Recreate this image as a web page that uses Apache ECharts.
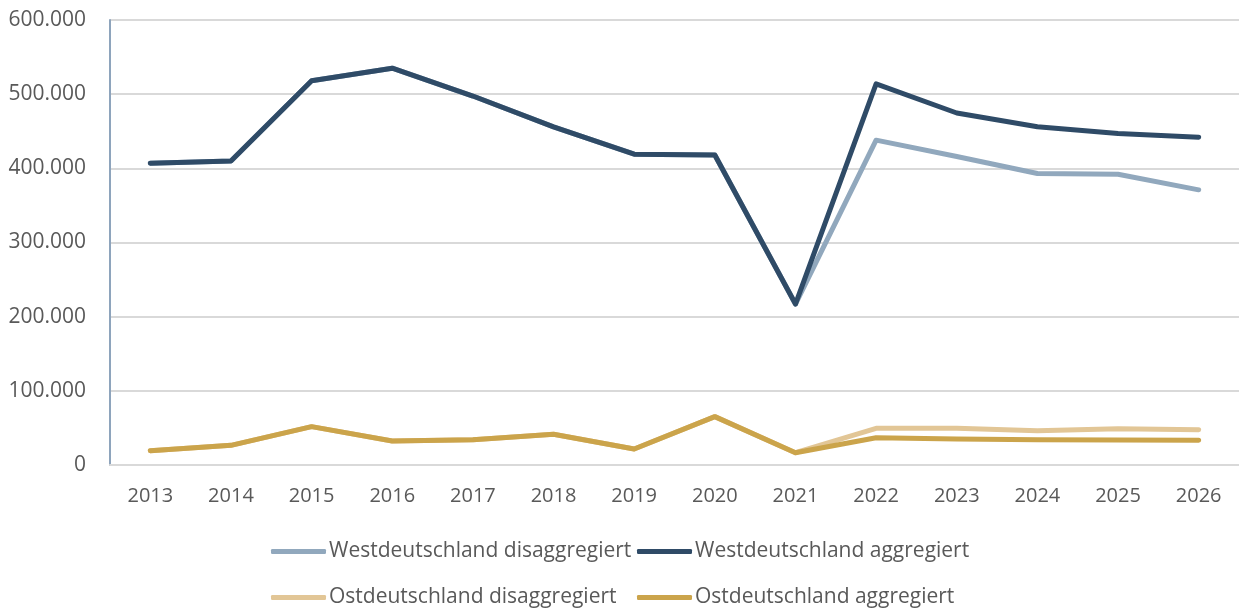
<!DOCTYPE html>
<html>
<head>
<meta charset="utf-8">
<script src="https://cdn.jsdelivr.net/npm/echarts@6/dist/echarts.min.js"></script>
<style>
html, body { margin: 0; padding: 0; background: #fff; }
#chart { width: 1239px; height: 610px; }
</style>
</head>
<body>
<div id="chart"></div>
<script>
// Jahre
var jahre = ['2013', '2014', '2015', '2016', '2017', '2018', '2019', '2020', '2021', '2022', '2023', '2024', '2025', '2026'];

// Werte
var westDisagg = [407000, 410000, 518000, 535000, 497500, 456000, 419000, 418000, 217000, 438000, 416000, 393000, 392000, 371000];
var westAgg = [407000, 410000, 518000, 535000, 497500, 456000, 419000, 418000, 217000, 514000, 474600, 456000, 447000, 442000];
var ostDisagg = [19300, 26500, 51700, 32400, 34100, 41400, 21600, 65200, 16600, 49500, 49500, 46300, 49000, 47600];
var ostAgg = [19300, 26500, 51700, 32400, 34100, 41400, 21600, 65200, 16600, 36800, 35100, 34100, 33700, 33300];

var namen = ['Westdeutschland disaggregiert', 'Westdeutschland aggregiert', 'Ostdeutschland disaggregiert', 'Ostdeutschland aggregiert'];
var farben = ['#91a8bd', '#2f4b67', '#e2c696', '#cba44b'];

var schrift = '"Open Sans", sans-serif';

function zahl(v) {
	if (v == 0) return '0';
	var s = String(v);
	return s.replace(/\B(?=(\d{3})+(?!\d))/g, '.');
}

function linie(name, daten, farbe) {
	return {
		name: name,
		type: 'line',
		data: daten,
		symbol: 'none',
		smooth: false,
		lineStyle: { width: 5, color: farbe, cap: 'round', join: 'round' },
		itemStyle: { color: farbe }
	};
}

function legende(name, left, top) {
	return {
		data: [name],
		left: left,
		top: top,
		itemWidth: 55,
		itemHeight: 5,
		itemGap: 0,
		icon: 'roundRect',
		textStyle: { fontFamily: schrift, fontSize: 21, color: '#595959', padding: [0, 0, 0, -2] }
	};
}

var option = {
	animation: false,
	legend: [
		legende(namen[0], 266, 536),
		legende(namen[1], 632, 536),
		legende(namen[2], 266, 582),
		legende(namen[3], 632, 582)
	],
	grid: {
		left: 110,
		top: 20,
		width: 1133,
		height: 445,
		containLabel: false
	},
	xAxis: {
		type: 'category',
		data: jahre,
		boundaryGap: true,
		axisLine: { lineStyle: { color: '#d9d9d9', width: 2 } },
		axisTick: { alignWithLabel: true, length: 6, lineStyle: { color: '#d9d9d9', width: 2 } },
		axisLabel: { fontFamily: schrift, fontSize: 20, color: '#595959', margin: 21 }
	},
	yAxis: {
		type: 'value',
		min: 0,
		max: 600000,
		interval: 100000,
		axisLine: { show: true, lineStyle: { color: '#8ea4bc', width: 2 } },
		axisTick: { show: false },
		splitLine: { lineStyle: { color: '#d9d9d9', width: 2 } },
		axisLabel: { fontFamily: schrift, fontSize: 21, color: '#595959', margin: 24, formatter: zahl }
	},
	series: [
		linie(namen[0], westDisagg, farben[0]),
		linie(namen[1], westAgg, farben[1]),
		linie(namen[2], ostDisagg, farben[2]),
		linie(namen[3], ostAgg, farben[3])
	]
};

var chart = echarts.init(document.getElementById('chart'));
chart.setOption(option);
</script>
</body>
</html>
